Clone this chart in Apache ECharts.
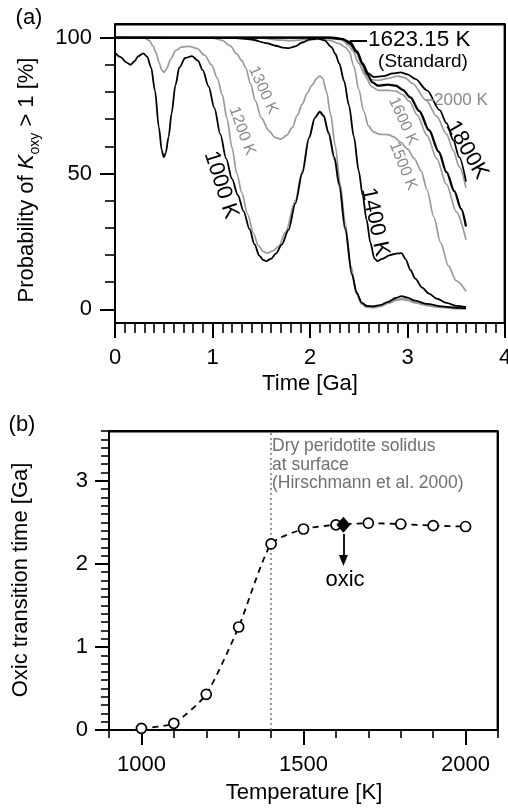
<!DOCTYPE html>
<html><head><meta charset="utf-8">
<script src="https://cdn.jsdelivr.net/npm/echarts@6/dist/echarts.min.js"></script>
<style>html,body{margin:0;padding:0;background:#fff}#c{width:508px;height:811px}</style>
</head><body><div id="c"></div>
<script>
// ---------- Panel (a) data: probability of K_oxy > 1 [%] vs time [Ga] ----------
const k1000 = [[0,94.5],[0.06,92.8],[0.11,91],[0.16,90],[0.2,91.3],[0.24,93.2],[0.29,94.2],[0.33,93],[0.37,89],[0.41,80.5],[0.45,67],[0.48,58.5],[0.5,56],[0.52,57.5],[0.55,63.5],[0.58,72],[0.62,82.5],[0.66,89],[0.72,92.5],[0.79,93.2],[0.85,91.5],[0.9,88],[0.96,82],[1.02,74],[1.08,64.5],[1.14,55.5],[1.2,48],[1.26,42],[1.32,36],[1.38,29.5],[1.43,24],[1.48,19.8],[1.52,18.2],[1.55,17.7],[1.6,18.6],[1.65,20.5],[1.71,23.8],[1.78,29.3],[1.85,39],[1.92,50],[1.99,63],[2.05,70.5],[2.1,72.8],[2.14,71.3],[2.19,65],[2.25,56],[2.3,46],[2.36,30],[2.43,13],[2.48,6],[2.53,2.5],[2.58,1.3],[2.65,1.1],[2.72,1.6],[2.8,2.8],[2.88,4.2],[2.94,4.9],[3.0,4.3],[3.08,3.2],[3.2,2.0],[3.35,1.1],[3.5,0.6],[3.6,0.5]];
const k1200 = [[0,100],[0.3,99.8],[0.35,99],[0.39,97],[0.42,94.5],[0.45,91],[0.48,88],[0.5,87.2],[0.53,88.5],[0.57,92],[0.62,95.2],[0.68,96.5],[0.76,96.8],[0.84,96],[0.92,93.5],[0.99,90],[1.05,85],[1.1,79],[1.15,70],[1.2,59.5],[1.25,50],[1.3,43],[1.36,35],[1.42,28],[1.47,23.5],[1.52,21.3],[1.56,20.7],[1.62,21.5],[1.68,23.3],[1.75,28.5],[1.85,40],[1.92,51],[1.99,63.5],[2.05,70.5],[2.1,72.3],[2.14,70.8],[2.19,64.5],[2.25,55],[2.3,45],[2.36,29],[2.43,12.5],[2.48,5.5],[2.53,2],[2.58,0.8],[2.65,0.6],[2.72,1.1],[2.8,2.2],[2.88,3.3],[2.94,3.7],[3.0,3.3],[3.08,2.4],[3.2,1.4],[3.35,0.7],[3.5,0.3],[3.6,0.2]];
const k1300 = [[0,100],[1.0,99.8],[1.1,99],[1.18,97],[1.25,94],[1.3,91.5],[1.34,89],[1.39,83],[1.44,76.7],[1.5,70.5],[1.58,65.7],[1.64,63.3],[1.7,62.6],[1.76,64],[1.82,67],[1.87,71.5],[1.92,75.5],[1.97,79.5],[2.02,82.5],[2.07,85],[2.1,85.8],[2.13,85],[2.17,80],[2.21,72],[2.26,60],[2.31,46],[2.36,32],[2.42,16],[2.47,7],[2.53,2.2],[2.6,1],[2.7,1.2],[2.8,2.4],[2.88,3.5],[2.94,4],[3.02,3.4],[3.12,2.2],[3.3,1],[3.6,0.3]];
const k1400 = [[0,100],[1.2,99.9],[1.4,99.3],[1.55,98],[1.65,97],[1.72,96.3],[1.78,96.1],[1.85,96.8],[1.92,98.2],[2.0,99.3],[2.08,99.6],[2.15,99],[2.22,96.5],[2.26,94],[2.3,90.5],[2.35,84],[2.4,75],[2.45,63.5],[2.5,51],[2.54,42],[2.58,33],[2.62,24.5],[2.66,18.8],[2.69,17.8],[2.74,18.6],[2.82,20],[2.9,20.6],[2.94,20.7],[2.98,18.5],[3.03,14.5],[3.08,11.3],[3.15,8],[3.22,5.8],[3.3,4],[3.4,2.4],[3.5,1.3],[3.6,0.8]];
const k1500 = [[0,100],[1.5,99.8],[1.7,99.1],[1.8,98.9],[1.95,99.3],[2.1,99.4],[2.2,99],[2.3,97.8],[2.36,96.5],[2.4,95],[2.45,89.5],[2.5,81],[2.55,73],[2.6,67.5],[2.65,65.3],[2.72,64.4],[2.8,64.3],[2.86,63.5],[2.93,61.5],[3.0,59],[3.07,55.5],[3.14,51],[3.2,44],[3.27,34],[3.34,24.5],[3.42,16],[3.5,10.5],[3.6,6.7]];
const k1600 = [[0,100],[2.1,99.9],[2.3,99.3],[2.4,98],[2.47,95],[2.53,90],[2.58,85],[2.63,82],[2.7,80.6],[2.8,80.6],[2.88,80.3],[2.95,79],[3.02,76.5],[3.1,71.5],[3.2,64],[3.3,55.5],[3.4,46],[3.5,36],[3.6,25.6]];
const kStd  = [[0,100],[2.2,100],[2.32,99.5],[2.41,98.3],[2.48,95],[2.54,90.5],[2.59,86.5],[2.64,83.5],[2.7,82.3],[2.8,82.7],[2.88,82.3],[2.95,80.8],[3.03,78],[3.12,73],[3.22,66],[3.32,58],[3.4,50.5],[3.48,43.5],[3.55,37],[3.6,30.5]];
const k1800 = [[0,100],[2.25,100],[2.34,99.5],[2.41,97.7],[2.48,94.5],[2.55,89.7],[2.6,86.8],[2.65,85.5],[2.75,85.8],[2.85,86.8],[2.93,87.2],[3.0,86.5],[3.08,84.8],[3.2,80.6],[3.33,73.3],[3.4,68.5],[3.47,62.3],[3.53,56],[3.6,47]];
const k2000 = [[0,100],[2.25,100],[2.33,99.2],[2.4,97],[2.44,95],[2.5,90.5],[2.56,86.5],[2.62,84.5],[2.7,84.3],[2.8,85],[2.9,85.8],[2.97,85.3],[3.05,83.2],[3.19,77],[3.3,71],[3.4,64.5],[3.47,58.5],[3.53,52.5],[3.6,44.7]];

// axis ranges and tick values
const timeRange = [0, 4];
const probRange = [-5, 105];
const timeTicksMajor = [0,1,2,3,4];
const timeTicksMinor = [0.1,0.2,0.3,0.4,0.5,0.6,0.7,0.8,0.9,1.1,1.2,1.3,1.4,1.5,1.6,1.7,1.8,1.9,2.1,2.2,2.3,2.4,2.5,2.6,2.7,2.8,2.9,3.1,3.2,3.3,3.4,3.5,3.6,3.7,3.8,3.9];
const probTicksMajor = [0,50,100];
const probTicksMinor = [10,20,30,40,60,70,80,90];

// ---------- Panel (b) data: oxic transition time vs temperature ----------
const tempK    = [1000,1100,1200,1300,1400,1500,1600,1700,1800,1900,2000];
const oxicTime = [0.02,0.08,0.43,1.24,2.24,2.42,2.47,2.49,2.48,2.46,2.45];
const stdTemp  = [1623.15];
const stdTime  = [2.47];
const solidusT = 1400;

const tempRange = [900, 2100];
const oxRange = [0, 3.6];
const tempTicksMajor = [1000,1500,2000];
const tempTicksMinor = [900,1100,1200,1300,1400,1600,1700,1800,1900,2100];
const oxTicksMajor = [0,1,2,3];
const oxTicksMinor = [0.1,0.2,0.3,0.4,0.5,0.6,0.7,0.8,0.9,1.1,1.2,1.3,1.4,1.5,1.6,1.7,1.8,1.9,2.1,2.2,2.3,2.4,2.5,2.6,2.7,2.8,2.9,3.1,3.2,3.3,3.4,3.5,3.6];

const FF = '"Liberation Sans", Arial, Helvetica, sans-serif';
const BLACK = '#000';
const GRAY = '#9a9a9a';
const GRAYTXT = '#8a8a8a';

const curves = [
  {d: k1200, c: GRAY, w: 1.7},
  {d: k1300, c: GRAY, w: 1.7},
  {d: k1500, c: GRAY, w: 1.7},
  {d: k1600, c: GRAY, w: 1.7},
  {d: k2000, c: GRAY, w: 1.7},
  {d: k1000, c: BLACK, w: 1.8},
  {d: k1400, c: BLACK, w: 1.8},
  {d: k1800, c: BLACK, w: 1.8},
  {d: kStd,  c: BLACK, w: 2.3}
];

const GRID_A = {left: 115, top: 24, width: 390, height: 299};
const GRID_B = {left: 109, top: 431, width: 389, height: 299};

const chart = echarts.init(document.getElementById('c'), null, {renderer: 'canvas'});
const plainNum = v => String(v);

function majorAxis(gridIndex, range, ticks, len, margin, pos) {
  return {
    type: 'value', gridIndex, min: range[0], max: range[1], position: pos, offset: 0,
    axisLine: {show: true, onZero: false, lineStyle: {color: BLACK, width: 2}},
    axisTick: {show: true, customValues: ticks, length: len, lineStyle: {color: BLACK, width: 2}},
    axisLabel: {show: true, customValues: ticks, margin, color: BLACK, fontSize: 22, fontFamily: FF, formatter: plainNum},
    splitLine: {show: false}
  };
}
function minorAxis(gridIndex, range, ticks, len, pos) {
  return {
    type: 'value', gridIndex, min: range[0], max: range[1], position: pos, offset: 0,
    axisLine: {show: false, onZero: false},
    axisTick: {show: true, customValues: ticks, length: len, lineStyle: {color: BLACK, width: 1.6}},
    axisLabel: {show: false},
    splitLine: {show: false}
  };
}
// top + right border of a panel, drawn as a line through the axis extents
function frameSeries(xi, yi, xr, yr) {
  return {
    type: 'line', xAxisIndex: xi, yAxisIndex: yi, clip: false, silent: true, z: 20,
    data: [[xr[0], yr[1]], [xr[1], yr[1]], [xr[1], yr[0]]],
    symbol: 'none', lineStyle: {color: BLACK, width: 2, opacity: 1}
  };
}

const series = curves.map(cv => ({
  type: 'line', xAxisIndex: 0, yAxisIndex: 0, data: cv.d,
  symbol: 'none', smooth: 0.3, smoothMonotone: 'x',
  lineStyle: {color: cv.c, width: cv.w}, silent: true, z: cv.c === BLACK ? 3 : 2
}));
series.push(frameSeries(0, 0, timeRange, probRange));
series.push(frameSeries(2, 2, tempRange, oxRange));

series.push({
  type: 'line', xAxisIndex: 2, yAxisIndex: 2,
  data: tempK.map((t, i) => [t, oxicTime[i]]),
  smooth: 0.2, symbol: 'circle', symbolSize: 10, showSymbol: true,
  itemStyle: {color: '#fff', borderColor: BLACK, borderWidth: 1.7, opacity: 1},
  lineStyle: {color: BLACK, width: 1.8, type: [6, 5]},
  silent: true, z: 3,
  markLine: {
    silent: true, symbol: ['none', 'none'], label: {show: false},
    lineStyle: {color: '#777', width: 1.5, type: [2, 3]},
    data: [{xAxis: solidusT}], z: 1
  }
});
series.push({
  type: 'scatter', xAxisIndex: 2, yAxisIndex: 2,
  data: stdTemp.map((t, i) => [t, stdTime[i]]),
  symbol: 'diamond', symbolSize: [14, 16], itemStyle: {color: BLACK, opacity: 1}, silent: true, z: 5,
  markLine: {
    silent: true, symbol: ['none', 'triangle'], symbolSize: [9, 11], label: {show: false},
    lineStyle: {color: BLACK, width: 1.8, type: 'solid'},
    data: [[{coord: [stdTemp[0], 2.36]}, {coord: [stdTemp[0], 2.04]}]]
  }
});

function txt(x, y, text, size, color, rot, extra) {
  return {
    type: 'text', x, y, rotation: rot || 0, silent: true,
    style: Object.assign({text, fill: color, fontSize: size, fontFamily: FF,
      align: 'center', verticalAlign: 'middle', textAlign: 'center', textVerticalAlign: 'middle'}, extra || {})
  };
}
function seg(x1, y1, x2, y2, color, w) {
  return {type: 'line', silent: true, z: 50, shape: {x1, y1, x2, y2}, style: {stroke: color, lineWidth: w}};
}
// panel frame, inset by half a pixel so it sits just inside the plot area
function frameSegs(g) {
  const l = g.left, t = g.top + 0.5, r = g.left + g.width - 0.5, b = g.top + g.height;
  return [seg(l, t, r, t, BLACK, 1.8), seg(r, t, r, b, BLACK, 1.8)];
}
const D = Math.PI / 180;

const graphics = [
  txt(29, 18, '(a)', 22, BLACK),
  txt(22, 425, '(b)', 22, BLACK),
  txt(310, 384, 'Time [Ga]', 22, BLACK),
  txt(304, 793, 'Temperature [K]', 22, BLACK),
  txt(21, 580, 'Oxic transition time [Ga]', 22, BLACK, 90 * D),
  {
    type: 'text', x: 29, y: 180, rotation: 90 * D, silent: true,
    style: {
      text: '{n|Probability of }{i|K}{s|oxy}{n| > 1 [%]}',
      fill: BLACK, fontFamily: FF, align: 'center', verticalAlign: 'middle',
      textAlign: 'center', textVerticalAlign: 'middle',
      rich: {
        n: {fontSize: 22, fontFamily: FF, lineHeight: 26, verticalAlign: 'top', fill: BLACK},
        i: {fontSize: 22, fontFamily: FF, fontStyle: 'italic', lineHeight: 26, verticalAlign: 'top', fill: BLACK},
        s: {fontSize: 14, fontFamily: FF, lineHeight: 14, verticalAlign: 'bottom', fill: BLACK}
      }
    }
  },
  // curve labels panel (a)
  txt(221, 185, '1000 K', 22, BLACK, -72 * D),
  txt(242, 131, '1200 K', 16, GRAYTXT, -70 * D),
  txt(263, 90, '1300 K', 16, GRAYTXT, -66 * D),
  txt(375, 222, '1400 K', 22, BLACK, -78 * D),
  txt(403, 166, '1500 K', 16, GRAYTXT, -68 * D),
  txt(403, 121, '1600 K', 16, GRAYTXT, -66 * D),
  txt(467, 150, '1800K', 22, BLACK, -60 * D),
  seg(350, 41, 367, 41, BLACK, 2),
  txt(368, 40, '1623.15 K', 22.5, BLACK, 0, {align: 'left', textAlign: 'left'}),
  txt(423, 62, '(Standard)', 19, BLACK),
  seg(425, 100, 434, 100, GRAYTXT, 1.6),
  txt(434, 100, '2000 K', 17, GRAYTXT, 0, {align: 'left', textAlign: 'left'}),
  // panel (b) annotations
  txt(272, 437, 'Dry peridotite solidus\nat surface\n(Hirschmann et al. 2000)', 17.5, '#707070', 0,
      {align: 'left', textAlign: 'left', verticalAlign: 'top', textVerticalAlign: 'top', lineHeight: 18.5}),
  txt(345, 580, 'oxic', 22, BLACK),
  ...frameSegs(GRID_A),
  ...frameSegs(GRID_B)
];

chart.setOption({
  animation: false,
  backgroundColor: '#fff',
  textStyle: {fontFamily: FF},
  grid: [
    Object.assign({containLabel: false, outerBoundsMode: 'none'}, GRID_A),
    Object.assign({containLabel: false, outerBoundsMode: 'none'}, GRID_B)
  ],
  xAxis: [
    majorAxis(0, timeRange, timeTicksMajor, 15, 24, 'bottom'),
    minorAxis(0, timeRange, timeTicksMinor, 10, 'bottom'),
    majorAxis(1, tempRange, tempTicksMajor, 15, 24, 'bottom'),
    minorAxis(1, tempRange, tempTicksMinor, 8, 'bottom')
  ],
  yAxis: [
    majorAxis(0, probRange, probTicksMajor, 15, 23, 'left'),
    minorAxis(0, probRange, probTicksMinor, 10, 'left'),
    majorAxis(1, oxRange, oxTicksMajor, 14, 21, 'left'),
    minorAxis(1, oxRange, oxTicksMinor, 8, 'left')
  ],
  series,
  graphic: {elements: graphics}
});
</script></body></html>
